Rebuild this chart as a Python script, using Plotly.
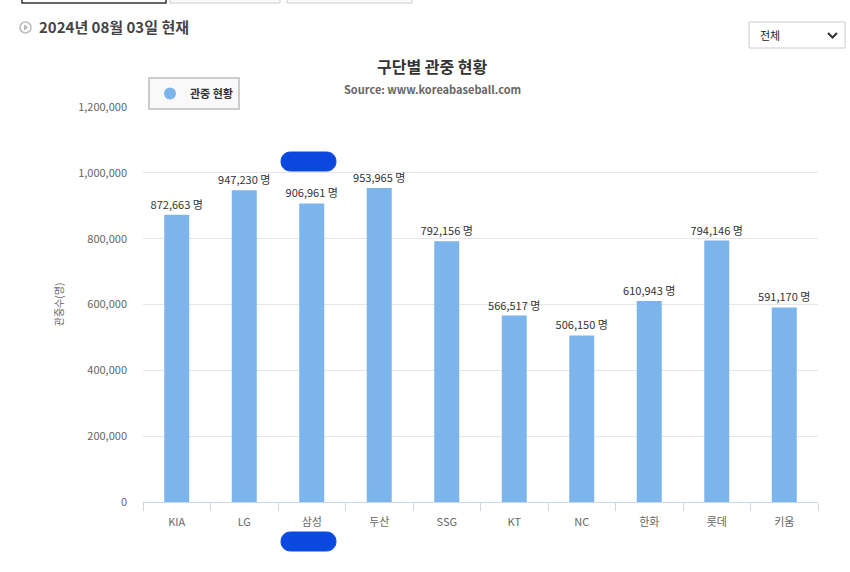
import plotly.graph_objects as go

teams = ["KIA", "LG", "삼성", "두산", "SSG", "KT", "NC", "한화", "롯데", "키움"]
attendance = [872663, 947230, 906961, 953965, 792156, 566517, 506150, 610943, 794146, 591170]
y_ticks = [0, 200000, 400000, 600000, 800000, 1000000, 1200000]

W, H = 850, 572
L, R, T, B = 143, 818, 107, 502

def px(x):
    return (x - L) / (R - L)

def py(y):
    return (B - y) / (B - T)

def pill(x0, y0, x1, y1):
    r = (y1 - y0) / 2
    pts = (f"M{px(x0 + r)},{py(y0)} L{px(x1 - r)},{py(y0)} "
           f"C{px(x1 + r * 0.33)},{py(y0)} {px(x1 + r * 0.33)},{py(y1)} {px(x1 - r)},{py(y1)} "
           f"L{px(x0 + r)},{py(y1)} "
           f"C{px(x0 - r * 0.33)},{py(y1)} {px(x0 - r * 0.33)},{py(y0)} {px(x0 + r)},{py(y0)} Z")
    return pts

KFONT = "Noto Sans CJK KR, Malgun Gothic, sans-serif"
BAR = "#7cb5ec"

fig = go.Figure()
fig.add_trace(go.Bar(
    x=teams, y=attendance, marker_color=BAR, marker_line_width=0,
    texttemplate="%{y:,} 명", textposition="outside", cliponaxis=False,
    constraintext="none",
    textfont=dict(size=11, color="#333333", family=KFONT),
    showlegend=False, name="관중 현황",
))
fig.add_trace(go.Scatter(
    x=[None], y=[None], mode="markers", name="<b>관중 현황</b>",
    marker=dict(color=BAR, size=11, symbol="circle"),
))

shapes = []
# top tab boxes
shapes.append(dict(type="rect", xref="paper", yref="paper", x0=px(22), x1=px(166), y0=py(-10), y1=py(3),
                   line=dict(color="#333333", width=1.5), fillcolor="white", layer="above"))
shapes.append(dict(type="rect", xref="paper", yref="paper", x0=px(170), x1=px(280), y0=py(-10), y1=py(3),
                   line=dict(color="#cccccc", width=1), fillcolor="#fafafa", layer="above"))
shapes.append(dict(type="rect", xref="paper", yref="paper", x0=px(287), x1=px(412), y0=py(-10), y1=py(3),
                   line=dict(color="#cccccc", width=1), fillcolor="#fafafa", layer="above"))
# header icon
shapes.append(dict(type="circle", xref="paper", yref="paper", x0=px(20), x1=px(31), y0=py(22), y1=py(33),
                   line=dict(color="#bbbbbb", width=1.5)))
shapes.append(dict(type="path", xref="paper", yref="paper",
                   path=f"M{px(24.5)},{py(25)} L{px(27.5)},{py(27.5)} L{px(24.5)},{py(30)} Z",
                   fillcolor="#bbbbbb", line=dict(color="#bbbbbb", width=1)))
# dropdown
shapes.append(dict(type="rect", xref="paper", yref="paper", x0=px(749), x1=px(845), y0=py(22), y1=py(48),
                   line=dict(color="#cccccc", width=1), fillcolor="white"))
shapes.append(dict(type="path", xref="paper", yref="paper",
                   path=f"M{px(828)},{py(33)} L{px(832.5)},{py(37.5)} L{px(837)},{py(33)}",
                   line=dict(color="#333333", width=2)))
# redaction marks
shapes.append(dict(type="path", xref="paper", yref="paper", path=pill(281, 152, 336, 171),
                   fillcolor="#0a48e0", line=dict(color="#0a48e0", width=1), layer="above"))
shapes.append(dict(type="path", xref="paper", yref="paper", path=pill(281, 532, 336, 551),
                   fillcolor="#0a48e0", line=dict(color="#0a48e0", width=1), layer="above"))

annotations = [
    dict(text="<b>2024년 08월 03일 현재</b>", x=px(37), y=py(26), xref="paper", yref="paper",
         xanchor="left", yanchor="middle", showarrow=False,
         font=dict(size=15, color="#444444", family=KFONT)),
    dict(text="전체", x=px(758), y=py(35), xref="paper", yref="paper",
         xanchor="left", yanchor="middle", showarrow=False,
         font=dict(size=11, color="#222222", family=KFONT)),
    dict(text="<b>구단별 관중 현황</b>", x=px(432), y=py(66), xref="paper", yref="paper",
         xanchor="center", yanchor="middle", showarrow=False,
         font=dict(size=16, color="#333333", family=KFONT)),
    dict(text="<b>Source: www.koreabaseball.com</b>", x=px(432), y=py(89), xref="paper", yref="paper",
         xanchor="center", yanchor="middle", showarrow=False,
         font=dict(size=11, color="#666666", family=KFONT)),
]

fig.update_layout(
    width=W, height=H,
    margin=dict(l=L, r=W - R, t=T, b=H - B, pad=0),
    paper_bgcolor="white", plot_bgcolor="white",
    font=dict(family=KFONT, color="#666666", size=11),
    bargap=0.63,
    shapes=shapes, annotations=annotations,
    legend=dict(
        x=px(148), y=py(77), xanchor="left", yanchor="top",
        bgcolor="#f9f9f9", bordercolor="#cccccc", borderwidth=2,
        font=dict(size=11, color="#333333", family=KFONT),
        itemsizing="constant", itemwidth=30,
    ),
    xaxis=dict(
        showgrid=False, showline=True, linecolor="#ccd6eb", linewidth=1,
        ticks="outside", ticklen=8, tickcolor="#ccd6eb", tickson="boundaries",
        ticklabelstandoff=10,
        tickfont=dict(size=11, color="#666666", family=KFONT),
    ),
    yaxis=dict(
        range=[0, 1200000], tickvals=y_ticks, tickformat=",d",
        showgrid=True, gridcolor="#e6e6e6", gridwidth=1, zeroline=False,
        ticks="", ticklabelstandoff=15,
        tickfont=dict(size=11, color="#666666", family=KFONT),
        title=dict(text="관중수(명)", font=dict(size=10, color="#666666", family=KFONT), standoff=12),
    ),
)

fig.write_html("out.html", config={"displayModeBar": False},
               post_script="document.body.style.margin='0px';")
